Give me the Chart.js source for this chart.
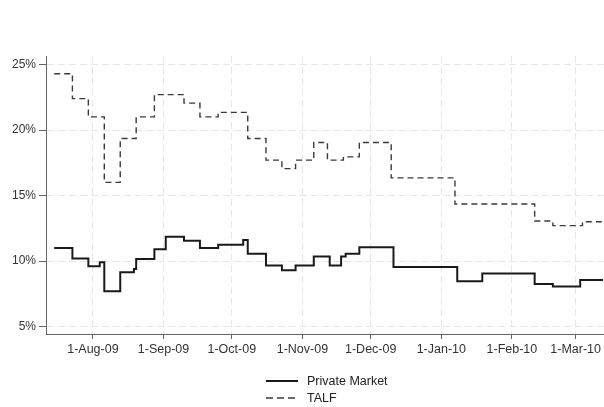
<!DOCTYPE html>
<html>
<head>
<meta charset="utf-8">
<script src="https://cdn.jsdelivr.net/npm/chart.js@4/dist/chart.umd.min.js"></script>
<style>
html,body{margin:0;padding:0;background:#fff;}
#wrap{position:relative;width:604px;height:407px;}
#legend{position:absolute;left:0;top:0;width:604px;height:407px;pointer-events:none;font-family:"Liberation Sans",Arial,sans-serif;font-size:12.5px;color:#222;}
.row{position:absolute;left:266px;height:16px;display:flex;align-items:center;white-space:nowrap;}
.row svg{display:block;margin-right:9px;}
</style>
</head>
<body>
<div id="wrap">
<canvas id="c" width="604" height="407"></canvas>
<div id="legend"></div>
</div>
<script>
// ---- data ----
const talfDates = ['2009-07-15','2009-07-23','2009-07-30','2009-08-06','2009-08-13','2009-08-20','2009-08-28','2009-09-10','2009-09-17','2009-09-25','2009-10-08','2009-10-16','2009-10-23','2009-10-29','2009-11-06','2009-11-12','2009-11-19','2009-11-26','2009-12-10','2010-01-07','2010-02-11','2010-02-19','2010-03-04','2010-03-13'];
const talfValues = [24.3,22.4,21.0,16.0,19.35,21.0,22.7,22.05,21.0,21.35,19.35,17.7,17.05,17.7,19.05,17.7,17.95,19.05,16.35,14.35,13.05,12.7,13.0,13.0];

const privDates = ['2009-07-15','2009-07-23','2009-07-30','2009-08-04','2009-08-06','2009-08-13','2009-08-19','2009-08-20','2009-08-28','2009-09-02','2009-09-10','2009-09-17','2009-09-25','2009-10-06','2009-10-08','2009-10-16','2009-10-23','2009-10-29','2009-11-06','2009-11-13','2009-11-18','2009-11-20','2009-11-26','2009-12-11','2010-01-08','2010-01-19','2010-02-11','2010-02-19','2010-03-03','2010-03-13'];
const privValues = [11.0,10.2,9.6,9.9,7.7,9.15,9.4,10.15,10.9,11.85,11.55,11.0,11.25,11.6,10.55,9.65,9.3,9.65,10.35,9.65,10.35,10.55,11.05,9.55,8.45,9.05,8.25,8.05,8.55,8.55];

const xTickDates = ['2009-08-01','2009-09-01','2009-10-01','2009-11-01','2009-12-01','2010-01-01','2010-02-01','2010-03-01'];
const xTickLabels = ['1-Aug-09','1-Sep-09','1-Oct-09','1-Nov-09','1-Dec-09','1-Jan-10','1-Feb-10','1-Mar-10'];
const yTicks = [5,10,15,20,25];
const seriesNames = ['Private Market','TALF'];

// ---- helpers ----
const BASE = Date.UTC(2009,7,1);
function dayNum(s){const p=s.split('-').map(Number);return (Date.UTC(p[0],p[1]-1,p[2])-BASE)/86400000;}
function pts(dates, vals){return dates.map((d,i)=>({x:dayNum(d), y:vals[i]}));}

const FONT = '"Liberation Sans", Arial, sans-serif';

new Chart(document.getElementById('c'), {
  type: 'line',
  data: {
    datasets: [
      {label: seriesNames[0], data: pts(privDates, privValues), borderColor: '#1a1a1a', borderWidth: 2, stepped: true, pointRadius: 0, fill: false},
      {label: seriesNames[1], data: pts(talfDates, talfValues), borderColor: '#3a3a3a', borderWidth: 1.4, borderDash: [6,4], stepped: true, pointRadius: 0, fill: false}
    ]
  },
  options: {
    responsive: false,
    animation: false,
    layout: {padding: {left: 0, right: 0, top: 56, bottom: 0}},
    plugins: {legend: {display: false}, tooltip: {enabled: false}},
    scales: {
      x: {
        type: 'linear',
        min: -20.6,
        max: 224.3,
        afterBuildTicks: s => { s.ticks = xTickDates.map(d => ({value: dayNum(d)})); },
        afterFit: s => { s.height = 73; },
        ticks: {
          callback: (v, i) => xTickLabels[i],
          color: '#333', font: {family: FONT, size: 12.5}, padding: 3, maxRotation: 0, autoSkip: false
        },
        grid: {color: '#e6e6e6', lineWidth: 1, tickLength: 5, tickColor: '#666', tickBorderDash: [], drawTicks: true},
        border: {display: true, color: '#666', width: 1, dash: [7,4]}
      },
      y: {
        type: 'linear',
        min: 4.43,
        max: 25.65,
        afterBuildTicks: s => { s.ticks = yTicks.map(v => ({value: v})); },
        afterFit: s => { s.width = 46; },
        ticks: {
          callback: v => v + '%',
          color: '#333', font: {family: FONT, size: 12}, padding: 3
        },
        grid: {color: '#e6e6e6', lineWidth: 1, tickLength: 7, tickColor: '#666', tickBorderDash: [], drawTicks: true},
        border: {display: true, color: '#666', width: 1, dash: [7,4]}
      }
    }
  }
});

// ---- legend (HTML, one item per row) ----
const lg = document.getElementById('legend');
const rowsTop = [373, 390];
seriesNames.forEach((name, i) => {
  const row = document.createElement('div');
  row.className = 'row';
  row.style.top = rowsTop[i] + 'px';
  const dash = i === 1 ? ' stroke-dasharray="7,4"' : '';
  const col = i === 1 ? '#3a3a3a' : '#1a1a1a';
  const w = i === 1 ? 1.4 : 2;
  row.innerHTML = '<svg width="32" height="6"><line x1="0" y1="3" x2="32" y2="3" stroke="' + col + '" stroke-width="' + w + '"' + dash + '/></svg><span>' + name + '</span>';
  lg.appendChild(row);
});
</script>
</body>
</html>
